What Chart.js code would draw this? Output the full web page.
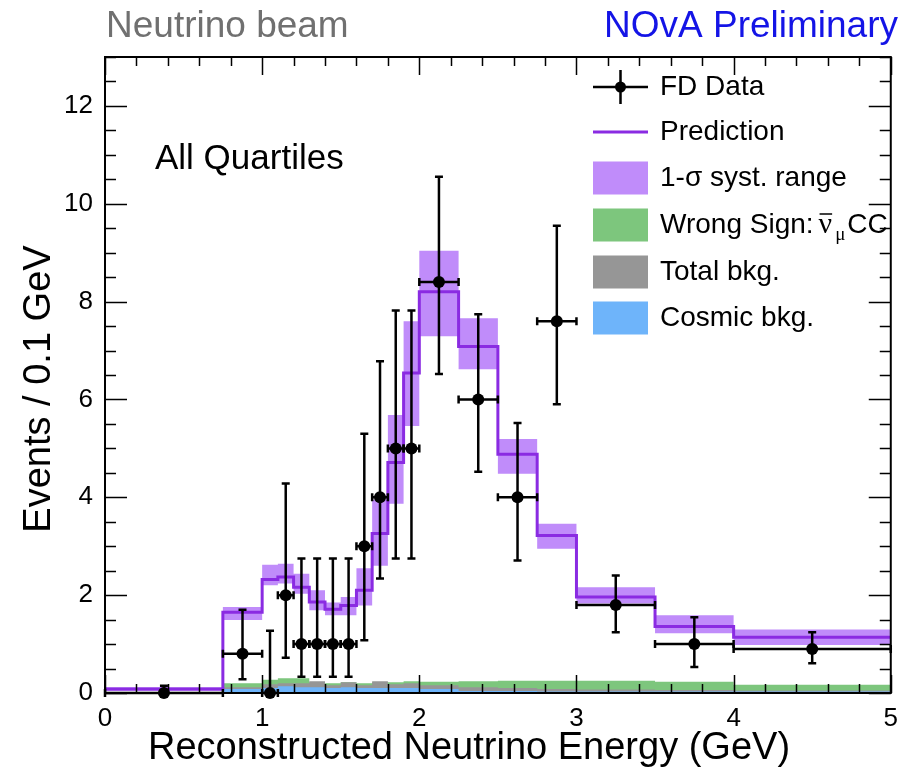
<!DOCTYPE html>
<html>
<head>
<meta charset="utf-8">
<script src="https://cdn.jsdelivr.net/npm/chart.js@4.4.1/dist/chart.umd.min.js"></script>
<style>
html, body { margin: 0; padding: 0; background: #fff; }
</style>
</head>
<body>
<canvas id="myChart" width="908" height="771"></canvas>
<script>
// variable-width energy bins (GeV); contents are events per 0.1 GeV
const binEdges = [0, 0.75, 1.0, 1.1, 1.2, 1.3, 1.4, 1.5, 1.6, 1.7, 1.8, 1.9, 2.0, 2.25, 2.5, 2.75, 3.0, 3.5, 4.0, 5.0];

const prediction = [0.08, 1.65, 2.32, 2.37, 2.16, 1.86, 1.71, 1.79, 2.1, 3.26, 4.71, 6.54, 8.2, 7.08, 4.88, 3.22, 1.96, 1.36, 1.14];
const systHigh   = [0.12, 1.76, 2.62, 2.64, 2.44, 2.1, 1.85, 1.96, 2.55, 3.95, 5.68, 7.6, 9.04, 7.66, 5.19, 3.46, 2.16, 1.59, 1.3];
const systLow    = [0.04, 1.49, 2.2, 2.24, 2.03, 1.69, 1.59, 1.59, 1.79, 2.6, 3.87, 5.46, 7.29, 6.62, 4.48, 2.95, 1.83, 1.22, 0.98];

const wrongSign = [0, 0.2, 0.27, 0.3, 0.3, 0.22, 0.2, 0.22, 0.2, 0.22, 0.22, 0.24, 0.23, 0.24, 0.25, 0.25, 0.25, 0.23, 0.17];
const totalBkg  = [0.02, 0.12, 0.18, 0.2, 0.2, 0.24, 0.16, 0.22, 0.16, 0.24, 0.18, 0.2, 0.16, 0.12, 0.1, 0.08, 0.07, 0.06, 0.05];
const cosmicBkg = [0.02, 0.08, 0.1, 0.14, 0.12, 0.12, 0.1, 0.12, 0.1, 0.1, 0.1, 0.1, 0.08, 0.04, 0.04, 0.03, 0.03, 0.03, 0.03];

// FD data, one point per bin, with asymmetric error bar ends
const dataY    = [0, 0.8, 0, 2, 1, 1, 1, 1, 3, 4, 5, 5, 8.4, 6, 4, 7.6, 1.8, 1, 0.9];
const dataUp   = [0.15, 1.7, 1.27, 4.28, 2.75, 2.75, 2.75, 2.75, 5.3, 6.78, 7.82, 7.82, 10.55, 7.74, 5.52, 9.55, 2.4, 1.55, 1.24];
const dataDown = [0, 0.28, 0, 0.72, 0.33, 0.33, 0.33, 0.33, 1.08, 2.34, 2.75, 2.75, 6.52, 4.52, 2.71, 5.9, 1.24, 0.53, 0.61];

const xTicks = [0, 1, 2, 3, 4, 5];
const yTicks = [0, 2, 4, 6, 8, 10, 12];

const PURPLE = '#8a2be2';
const BAND = 'rgb(192,140,250)';
const GREEN = 'rgb(125,198,125)';
const GRAY = 'rgb(150,150,150)';
const BLUE = 'rgb(110,180,250)';
const FONT = '"Liberation Sans", Arial, Helvetica, sans-serif';

function stepPoints(values) {
  return binEdges.map((e, i) => ({ x: e, y: values[Math.min(i, values.length - 1)] }));
}

function binCentre(i) {
  return (binEdges[i] + binEdges[i + 1]) / 2;
}

// 'before' in chart.js keeps the previous value up to the next edge
function histo(values, opts) {
  return Object.assign({
    type: 'line',
    data: stepPoints(values),
    stepped: 'before',
    pointRadius: 0,
    borderWidth: 0,
    borderColor: 'rgba(0,0,0,0)',
    fill: false
  }, opts);
}

// error bars go under the data markers
const errorBars = {
  id: 'errorBars',
  beforeDatasetDraw(chart, args) {
    if (args.index !== 0) return;
    const { ctx, scales: { x, y } } = chart;
    ctx.save();
    ctx.strokeStyle = '#000';
    ctx.lineWidth = 2.5;
    dataY.forEach((v, i) => {
      const px = x.getPixelForValue(binCentre(i));
      const py = y.getPixelForValue(v);
      const x0 = x.getPixelForValue(binEdges[i]);
      const x1 = x.getPixelForValue(binEdges[i + 1]);
      const yt = y.getPixelForValue(dataUp[i]);
      const yb = y.getPixelForValue(dataDown[i]);
      ctx.beginPath();
      ctx.moveTo(x0, py); ctx.lineTo(x1, py);
      ctx.moveTo(x0, py - 4); ctx.lineTo(x0, py + 4);
      ctx.moveTo(x1, py - 4); ctx.lineTo(x1, py + 4);
      ctx.moveTo(px, yt); ctx.lineTo(px, yb);
      ctx.moveTo(px - 4, yt); ctx.lineTo(px + 4, yt);
      if (dataDown[i] > 0) { ctx.moveTo(px - 4, yb); ctx.lineTo(px + 4, yb); }
      ctx.stroke();
    });
    ctx.restore();
  }
};

// ROOT-style frame with inward ticks on all four sides
const frame = {
  id: 'frame',
  afterDatasetsDraw(chart) {
    const { ctx, chartArea: a, scales: { x, y } } = chart;
    ctx.save();
    ctx.strokeStyle = '#000';
    ctx.lineWidth = 1.5;
    ctx.beginPath();
    for (let k = 0; k <= 25; k++) {
      const px = Math.round(x.getPixelForValue(k * 0.2)) + 0.5;
      const len = k % 5 === 0 ? 18 : 9;
      ctx.moveTo(px, a.bottom); ctx.lineTo(px, a.bottom - len);
      ctx.moveTo(px, a.top); ctx.lineTo(px, a.top + len);
    }
    for (let k = 0; k <= 26; k++) {
      const py = Math.round(y.getPixelForValue(k * 0.5)) + 0.5;
      const len = k % 4 === 0 ? 22 : 11;
      ctx.moveTo(a.left, py); ctx.lineTo(a.left + len, py);
      ctx.moveTo(a.right, py); ctx.lineTo(a.right - len, py);
    }
    ctx.stroke();
    ctx.lineWidth = 2;
    ctx.strokeRect(a.left, a.top, a.right - a.left, a.bottom - a.top);
    ctx.restore();
  }
};

// header, axis titles, label and legend
const annotations = {
  id: 'annotations',
  afterDraw(chart) {
    const { ctx } = chart;
    ctx.save();
    ctx.textBaseline = 'alphabetic';

    ctx.font = '37px ' + FONT;
    ctx.fillStyle = '#707070';
    ctx.textAlign = 'left';
    ctx.fillText('Neutrino beam', 106, 37);
    ctx.fillStyle = '#1414e6';
    ctx.textAlign = 'right';
    ctx.fillText('NOvA Preliminary', 898, 37);

    ctx.fillStyle = '#000';
    ctx.font = '38px ' + FONT;
    ctx.textAlign = 'center';
    ctx.fillText('Reconstructed Neutrino Energy (GeV)', 469, 759);
    ctx.save();
    ctx.translate(50, 389);
    ctx.rotate(-Math.PI / 2);
    ctx.fillText('Events / 0.1 GeV', 0, 0);
    ctx.restore();

    ctx.font = '35px ' + FONT;
    ctx.textAlign = 'left';
    ctx.fillText('All Quartiles', 155, 169);

    // legend
    const rows = [87, 132, 178, 225, 272, 318];
    const sx0 = 593, sx1 = 648, tx = 660;
    ctx.font = '28px ' + FONT;
    ctx.textBaseline = 'middle';

    ctx.strokeStyle = '#000';
    ctx.lineWidth = 2.5;
    ctx.beginPath();
    ctx.moveTo(sx0, rows[0]); ctx.lineTo(sx1, rows[0]);
    ctx.moveTo((sx0 + sx1) / 2, rows[0] - 17); ctx.lineTo((sx0 + sx1) / 2, rows[0] + 17);
    ctx.stroke();
    ctx.beginPath();
    ctx.arc((sx0 + sx1) / 2, rows[0], 5.5, 0, Math.PI * 2);
    ctx.fill();
    ctx.fillText('FD Data', tx, rows[0]);

    ctx.strokeStyle = PURPLE;
    ctx.lineWidth = 3;
    ctx.beginPath();
    ctx.moveTo(sx0, rows[1]); ctx.lineTo(sx1, rows[1]);
    ctx.stroke();
    ctx.fillText('Prediction', tx, rows[1]);

    const swatches = [BAND, GREEN, GRAY, BLUE];
    swatches.forEach((c, i) => {
      ctx.fillStyle = c;
      ctx.fillRect(sx0, rows[i + 2] - 16.5, sx1 - sx0, 33);
    });
    ctx.fillStyle = '#000';
    ctx.fillText('1-σ syst. range', tx, rows[2]);

    let cx = tx;
    ctx.fillText('Wrong Sign:', cx, rows[3]);
    cx += ctx.measureText('Wrong Sign:').width + 5;
    ctx.font = '30px "Liberation Serif", serif';
    ctx.fillText('ν', cx, rows[3]);
    const nuW = ctx.measureText('ν').width;
    ctx.lineWidth = 1.5;
    ctx.strokeStyle = '#000';
    ctx.beginPath();
    ctx.moveTo(cx + 1, rows[3] - 11); ctx.lineTo(cx + nuW, rows[3] - 11);
    ctx.stroke();
    cx += nuW + 3;
    ctx.font = '19px "Liberation Serif", serif';
    ctx.fillText('μ', cx, rows[3] + 10);
    cx += ctx.measureText('μ').width + 2;
    ctx.font = '28px ' + FONT;
    ctx.fillText('CC', cx, rows[3]);

    ctx.fillText('Total bkg.', tx, rows[4]);
    ctx.fillText('Cosmic bkg.', tx, rows[5]);
    ctx.restore();
  }
};

window.addEventListener('load', function () {
  const ctx = document.getElementById('myChart').getContext('2d');
  new Chart(ctx, {
    type: 'scatter',
    data: {
      datasets: [
        {
          type: 'scatter',
          label: 'FD Data',
          data: dataY.map((v, i) => ({ x: binCentre(i), y: v })),
          pointRadius: 6,
          pointBackgroundColor: '#000',
          pointBorderWidth: 0,
          clip: false,
          order: 0
        },
        histo(prediction, { label: 'Prediction', borderColor: PURPLE, borderWidth: 3, order: 1 }),
        histo(cosmicBkg, { label: 'Cosmic bkg.', fill: 'origin', backgroundColor: BLUE, order: 2 }),
        histo(totalBkg, { label: 'Total bkg.', fill: 'origin', backgroundColor: GRAY, order: 3 }),
        histo(wrongSign, { label: 'Wrong Sign', fill: 'origin', backgroundColor: GREEN, order: 4 }),
        histo(systHigh, { label: '1-sigma syst. range', fill: '+1', backgroundColor: BAND, order: 5 }),
        histo(systLow, { label: 'syst low', order: 6 })
      ]
    },
    options: {
      responsive: false,
      animation: false,
      layout: { padding: { top: 57, right: 8, left: 0, bottom: 0 } },
      plugins: {
        legend: { display: false },
        tooltip: { enabled: false }
      },
      scales: {
        x: {
          type: 'linear',
          min: 0,
          max: 5,
          grid: { display: false, drawTicks: false },
          border: { display: false },
          afterBuildTicks: s => { s.ticks = xTicks.map(v => ({ value: v })); },
          afterFit: s => { s.height = 78; },
          ticks: { color: '#000', font: { size: 26, family: FONT }, padding: 10, maxRotation: 0 }
        },
        y: {
          min: 0,
          max: 13,
          grid: { display: false, drawTicks: false },
          border: { display: false },
          afterBuildTicks: s => { s.ticks = yTicks.map(v => ({ value: v })); },
          afterFit: s => { s.width = 105; },
          ticks: { color: '#000', font: { size: 26, family: FONT }, padding: 12 }
        }
      }
    },
    plugins: [errorBars, frame, annotations]
  });
});
</script>
</body>
</html>
